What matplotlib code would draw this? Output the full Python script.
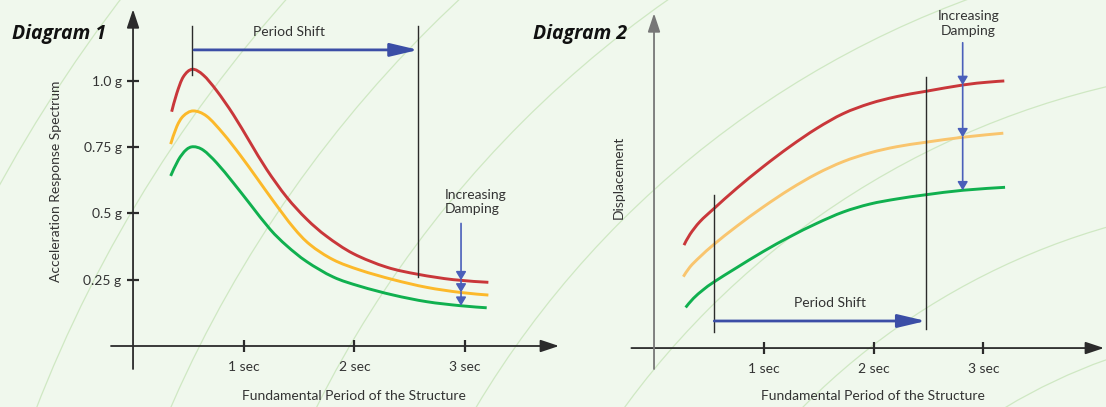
import numpy as np
import matplotlib
matplotlib.use("Agg")
import matplotlib.pyplot as plt
from matplotlib.patches import Circle, PathPatch
from matplotlib.path import Path

plt.rcParams['font.family'] = ['Lato', 'DejaVu Sans']

# Diagram 1 - acceleration response spectrum (g) against period (sec)
acc_red_x = [0.349, 0.395, 0.455, 0.536, 0.635, 0.756, 0.906, 1.057, 1.208, 1.388,
             1.569, 1.750, 1.990, 2.292, 2.577, 2.893, 3.210]
acc_red_y = [0.883, 0.952, 1.015, 1.043, 1.021, 0.962, 0.872, 0.768, 0.665, 0.561,
             0.478, 0.413, 0.348, 0.297, 0.270, 0.250, 0.240]
acc_yel_x = [0.340, 0.395, 0.455, 0.545, 0.666, 0.816, 0.967, 1.117, 1.268, 1.448,
             1.599, 1.809, 2.051, 2.351, 2.653, 2.954, 3.210]
acc_yel_y = [0.761, 0.827, 0.867, 0.886, 0.866, 0.800, 0.720, 0.634, 0.546, 0.447,
             0.382, 0.325, 0.286, 0.250, 0.221, 0.202, 0.192]
acc_grn_x = [0.340, 0.409, 0.479, 0.545, 0.635, 0.756, 0.906, 1.057, 1.238, 1.388,
             1.569, 1.809, 2.051, 2.351, 2.653, 2.954, 3.195]
acc_grn_y = [0.641, 0.701, 0.739, 0.751, 0.738, 0.690, 0.615, 0.535, 0.440, 0.378,
             0.318, 0.260, 0.225, 0.192, 0.167, 0.152, 0.144]
acc_ticks = [0.25, 0.5, 0.75, 1.0]
acc_labels = ["0.25 g", "0.5 g", "0.75 g", "1.0 g"]

# Diagram 2 - displacement (relative) against period (sec)
dis_red_x = [0.273, 0.328, 0.419, 0.549, 0.753, 0.995, 1.239, 1.482, 1.724, 1.967,
             2.210, 2.477, 2.817, 3.030, 3.190]
dis_red_y = [0.388, 0.429, 0.477, 0.527, 0.602, 0.684, 0.760, 0.828, 0.884, 0.922,
             0.948, 0.968, 0.992, 1.002, 1.007]
dis_yel_x = [0.267, 0.328, 0.419, 0.549, 0.753, 0.995, 1.239, 1.482, 1.724, 1.967,
             2.210, 2.477, 2.817, 3.181]
dis_yel_y = [0.269, 0.306, 0.344, 0.392, 0.459, 0.532, 0.599, 0.657, 0.703, 0.736,
             0.759, 0.776, 0.795, 0.810]
dis_grn_x = [0.288, 0.358, 0.449, 0.549, 0.753, 0.995, 1.239, 1.482, 1.724, 1.967,
             2.210, 2.477, 2.817, 3.197]
dis_grn_y = [0.153, 0.187, 0.220, 0.250, 0.303, 0.364, 0.420, 0.470, 0.513, 0.543,
             0.562, 0.578, 0.595, 0.606]

sec_ticks = [1, 2, 3]
sec_labels = ["1 sec", "2 sec", "3 sec"]

# period shift markers (sec) and damping arrow positions
acc_shift = [0.537, 2.577]
dis_shift = [0.549, 2.477]
acc_damp_x = 2.963
dis_damp_x = 2.811

RED = "#c9373a"
YEL1 = "#fcb92a"
YEL2 = "#f9c56e"
GRN = "#10b04f"
BLUE = "#3b4ea6"
DBLUE = "#4a5fba"
INK = "#2b2b2b"
TXT = "#333333"
BG = "#f0f8ed"


def smooth_curve(ax, xs, ys, color):
    # draw the read points as one smooth bezier path (catmull-rom style)
    p = np.column_stack([xs, ys])
    ext = np.vstack([p[0], p, p[-1]])
    verts = [p[0]]
    codes = [Path.MOVETO]
    for i in range(1, len(ext) - 2):
        c1 = ext[i] + (ext[i + 1] - ext[i - 1]) / 6
        c2 = ext[i + 1] - (ext[i + 2] - ext[i]) / 6
        verts += [c1, c2, ext[i + 1]]
        codes += [Path.CURVE4] * 3
    ax.add_patch(PathPatch(Path(verts, codes), fill=False, edgecolor=color,
                           lw=2.1, capstyle="butt"))


fig = plt.figure(figsize=(11.06, 4.07), dpi=100, facecolor=BG)

# faint decorative arcs in the background
bg = fig.add_axes([0, 0, 1, 1], zorder=-5)
bg.set_xlim(0, 1106)
bg.set_ylim(407, 0)
bg.axis("off")
for r in [574, 700, 836, 960, 1100, 1232, 1356, 1484]:
    bg.add_patch(Circle((1300, 900), r, fill=False, color="#cfe8c3", lw=0.9))

ax1 = fig.add_axes([111 / 1106, 1 - 369 / 407, 448 / 1106, 359.7 / 407])
ax2 = fig.add_axes([631.4 / 1106, 1 - 369 / 407, 472.6 / 1106, 355.7 / 407])
ax1.set_xlim(-0.199, 3.848)
ax1.set_ylim(-0.0867, 1.269)
ax2.set_xlim(-0.206, 4.098)
ax2.set_ylim(-0.079, 1.262)

for ax, ycol in [(ax1, INK), (ax2, "#777777")]:
    ax.patch.set_alpha(0)
    ax.spines['bottom'].set_position(('data', 0))
    ax.spines['left'].set_position(('data', 0))
    for s in ax.spines.values():
        s.set_visible(False)
    ax.annotate("", xy=(1, 0), xytext=(0, 0), xycoords=ax.get_yaxis_transform(),
                textcoords=ax.get_yaxis_transform(),
                arrowprops=dict(arrowstyle="-|>,head_length=0.75,head_width=0.25",
                                mutation_scale=15, color=INK, lw=1.3,
                                shrinkA=0, shrinkB=0))
    ax.annotate("", xy=(0, 1), xytext=(0, 0), xycoords=ax.get_xaxis_transform(),
                textcoords=ax.get_xaxis_transform(),
                arrowprops=dict(arrowstyle="-|>,head_length=0.75,head_width=0.25",
                                mutation_scale=15, color=ycol, lw=1.3,
                                shrinkA=0, shrinkB=0))
    ax.set_xticks(sec_ticks)
    ax.set_xticklabels(sec_labels)
    ax.tick_params(axis="x", direction="inout", length=9, width=1.6, color=INK,
                   pad=6, labelsize=10, labelcolor=TXT)

ax1.set_yticks(acc_ticks)
ax1.set_yticklabels(acc_labels)
ax1.tick_params(axis="y", direction="inout", length=8.5, width=1.6, color=INK,
                pad=4, labelsize=10, labelcolor=TXT)
ax2.set_yticks([])

# curves
smooth_curve(ax1, acc_red_x, acc_red_y, RED)
smooth_curve(ax1, acc_yel_x, acc_yel_y, YEL1)
smooth_curve(ax1, acc_grn_x, acc_grn_y, GRN)
smooth_curve(ax2, dis_red_x, dis_red_y, RED)
smooth_curve(ax2, dis_yel_x, dis_yel_y, YEL2)
smooth_curve(ax2, dis_grn_x, dis_grn_y, GRN)

# period shift: vertical markers and arrow
ax1.plot([acc_shift[0]] * 2, [1.021, 1.206], color=INK, lw=1.0)
ax1.plot([acc_shift[1]] * 2, [0.261, 1.206], color=INK, lw=1.0)
ax1.annotate("", xy=(acc_shift[1], 1.116), xytext=(acc_shift[0] + 0.014, 1.116),
             arrowprops=dict(arrowstyle="-|>,head_length=0.85,head_width=0.2",
                             mutation_scale=20, color=BLUE, lw=2.0,
                             shrinkA=0, shrinkB=0))
ax1.text(1.405, 1.182, "Period Shift", ha="center", va="center", fontsize=10, color=TXT)

ax2.plot([dis_shift[0]] * 2, [0.061, 0.577], color=INK, lw=1.0)
ax2.plot([dis_shift[1]] * 2, [0.070, 1.020], color=INK, lw=1.0)
ax2.annotate("", xy=(dis_shift[1], 0.102), xytext=(dis_shift[0], 0.102),
             arrowprops=dict(arrowstyle="-|>,head_length=0.85,head_width=0.2",
                             mutation_scale=20, color=BLUE, lw=2.0,
                             shrinkA=0, shrinkB=0))
ax2.text(1.603, 0.168, "Period Shift", ha="center", va="center", fontsize=10, color=TXT)


# increasing damping arrows, ending on each curve
def damping(ax, x, top, curves):
    levels = [top] + [np.interp(x, cx, cy) for cx, cy in curves]
    for a, b in zip(levels[:-1], levels[1:]):
        ax.annotate("", xy=(x, b), xytext=(x, a),
                    arrowprops=dict(arrowstyle="-|>,head_length=0.5,head_width=0.3",
                                    mutation_scale=10, color=DBLUE, lw=1.2,
                                    shrinkA=0, shrinkB=0))


damping(ax1, acc_damp_x, 0.462, [(acc_red_x, acc_red_y), (acc_yel_x, acc_yel_y),
                                 (acc_grn_x, acc_grn_y)])
damping(ax2, dis_damp_x, 1.151, [(dis_red_x, dis_red_y), (dis_yel_x, dis_yel_y),
                                 (dis_grn_x, dis_grn_y)])
ax1.text(2.812, 0.543, "Increasing\nDamping", ha="left", va="center", fontsize=10,
         color=TXT, linespacing=1.25)
ax2.text(2.862, 1.224, "Increasing\nDamping", ha="center", va="center", fontsize=10,
         color=TXT, linespacing=1.25)

# titles and axis labels
for xpos, title in [(11.7, "Diagram 1"), (532.7, "Diagram 2")]:
    fig.text(xpos / 1106, 1 - 39.3 / 407, title, fontsize=14, fontweight="bold",
             style="italic", family=["Open Sans", "DejaVu Sans"], color="#111111",
             va="baseline")
fig.text(353.8 / 1106, 1 - 396 / 407, "Fundamental Period of the Structure",
         ha="center", va="center", fontsize=10, color=TXT)
fig.text(872.5 / 1106, 1 - 396 / 407, "Fundamental Period of the Structure",
         ha="center", va="center", fontsize=10, color=TXT)
fig.text(56.4 / 1106, 1 - 181 / 407, "Acceleration Response Spectrum", rotation=90,
         ha="center", va="center", fontsize=10, color=TXT)
fig.text(618.5 / 1106, 1 - 177 / 407, "Displacement", rotation=90,
         ha="center", va="center", fontsize=10, color=TXT)

fig.savefig("out.png", dpi=100, facecolor=BG)
